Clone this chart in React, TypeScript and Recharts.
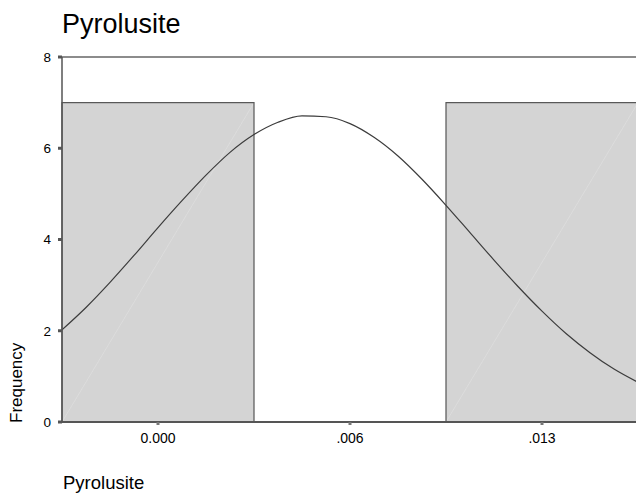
import {
  ComposedChart,
  Bar,
  Line,
  XAxis,
  YAxis,
  ReferenceLine,
} from "recharts";

// histogram bins (category labels) and their counts
const binLabels = ["0.000", ".006", ".013"];
const binCounts = [7, 0, 7];

// fitted normal curve, x in bin units (0 = first bin centre)
const curveX = [
  -0.5, -0.375, -0.25, -0.125, 0, 0.125, 0.25, 0.375, 0.5, 0.625, 0.75, 0.875,
  1, 1.125, 1.25, 1.375, 1.5, 1.625, 1.75, 1.875, 2, 2.125, 2.25, 2.375, 2.5,
];
const curveY = [
  2.02, 2.51, 3.06, 3.65, 4.26, 4.85, 5.41, 5.91, 6.3, 6.57, 6.71, 6.69, 6.54,
  6.24, 5.83, 5.32, 4.75, 4.15, 3.55, 2.97, 2.43, 1.94, 1.52, 1.16, 0.87,
];

const yTicks = [0, 2, 4, 6, 8];

const bins = binLabels.map((label, i) => ({ bin: label, freq: binCounts[i] }));
const curve = curveX.map((x, i) => ({ x, density: curveY[i] }));

const FONT = '"Liberation Sans", Arial, sans-serif';

const BinShape = (props: any) => {
  const { x, y, width, height } = props;
  if (!height || height <= 0) return <g />;
  return (
    <g>
      <rect x={x} y={y} width={width} height={height} fill="#d4d4d4" />
      <line
        x1={x}
        y1={y + height}
        x2={x + width}
        y2={y}
        stroke="#e0e0e0"
        strokeWidth={0.7}
      />
      <rect
        x={x}
        y={y}
        width={width}
        height={height}
        fill="none"
        stroke="#555"
        strokeWidth={1.2}
      />
    </g>
  );
};

export default function App() {
  return (
    <div
      style={{
        position: "absolute",
        left: 0,
        top: 0,
        width: 636,
        height: 496,
        overflow: "hidden",
        background: "#fff",
        fontFamily: FONT,
      }}
    >
      <ComposedChart
        width={640}
        height={496}
        data={bins}
        barCategoryGap={0}
        margin={{ top: 57, right: 2, bottom: 44, left: 0 }}
      >
        <XAxis
          dataKey="bin"
          type="category"
          height={30}
          axisLine={{ stroke: "#555", strokeWidth: 2 }}
          tickLine={{ stroke: "#777", strokeWidth: 3 }}
          tickSize={3}
          tickMargin={8}
          tick={{ fontSize: 14, fill: "#000", fontFamily: FONT }}
        />
        <XAxis
          xAxisId="curve"
          dataKey="x"
          type="number"
          domain={[-0.5, 2.5]}
          allowDataOverflow
          hide
        />
        <YAxis
          width={62}
          domain={[0, 8]}
          ticks={yTicks}
          interval={0}
          axisLine={{ stroke: "#555", strokeWidth: 1.5 }}
          tickLine={{ stroke: "#555", strokeWidth: 3 }}
          tickSize={4}
          tickMargin={7}
          tick={{ fontSize: 13.5, fill: "#000", fontFamily: FONT }}
        />
        <Bar dataKey="freq" shape={BinShape} isAnimationActive={false} />
        <ReferenceLine y={8} stroke="#8c8c8c" strokeWidth={2} />
        <Line
          xAxisId="curve"
          data={curve}
          dataKey="density"
          type="monotone"
          stroke="#3c3c3c"
          strokeWidth={1.2}
          dot={false}
          activeDot={false}
          isAnimationActive={false}
        />
      </ComposedChart>
      <svg
        width={636}
        height={496}
        style={{ position: "absolute", left: 0, top: 0, pointerEvents: "none" }}
      >
        <text x={62} y={32.5} fontSize={27} fill="#000" fontFamily={FONT}>
          Pyrolusite
        </text>
        <text
          x={22}
          y={423}
          fontSize={17}
          fill="#000"
          fontFamily={FONT}
          transform="rotate(-90 22 423)"
        >
          Frequency
        </text>
        <text x={63} y={489} fontSize={18.5} fill="#000" fontFamily={FONT}>
          Pyrolusite
        </text>
      </svg>
    </div>
  );
}
